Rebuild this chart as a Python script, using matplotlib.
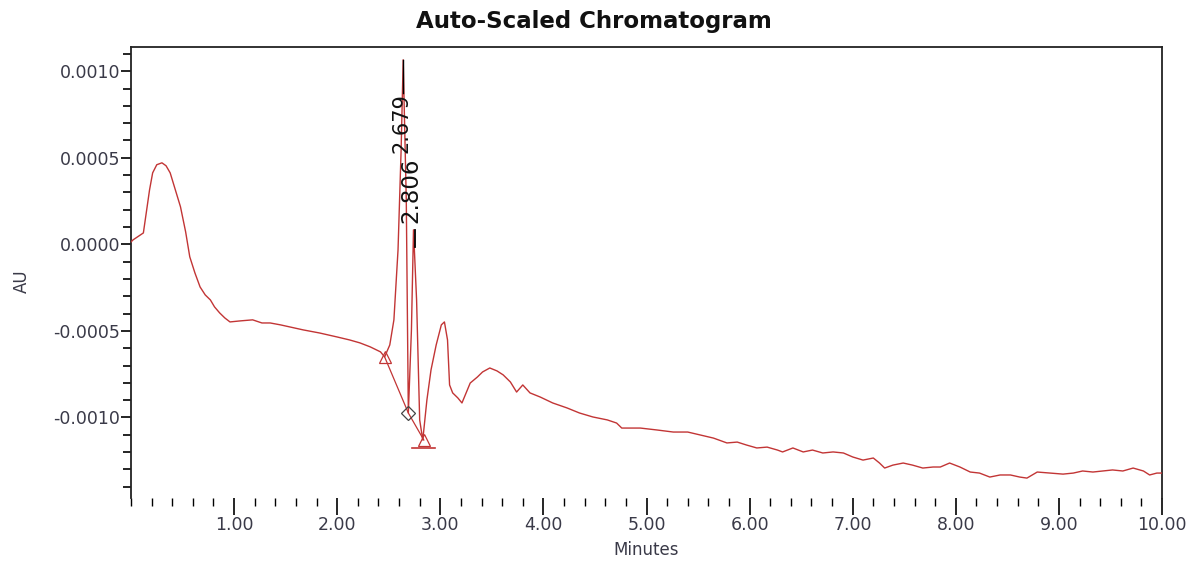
import matplotlib
matplotlib.use("Agg")
import matplotlib.pyplot as plt
from matplotlib.ticker import MultipleLocator

# ---- data ----
time_min = [0.00, 0.02, 0.12, 0.18, 0.21, 0.25, 0.30, 0.34, 0.38, 0.43, 0.48, 0.53, 0.57, 0.62,
            0.67, 0.72, 0.77, 0.81, 0.86, 0.91, 0.96, 1.06, 1.18, 1.27, 1.35, 1.45, 1.54, 1.67,
            1.83, 2.00, 2.12, 2.22, 2.32, 2.42, 2.46, 2.51, 2.55, 2.59, 2.62, 2.64, 2.67, 2.69,
            2.72, 2.74, 2.77, 2.80, 2.83, 2.87, 2.91, 2.96, 3.01, 3.04, 3.07, 3.09, 3.12, 3.17,
            3.21, 3.25, 3.29, 3.36, 3.41, 3.48, 3.55, 3.61, 3.68, 3.74, 3.80, 3.87, 3.97, 4.09,
            4.23, 4.35, 4.48, 4.62, 4.71, 4.76, 4.94, 5.10, 5.26, 5.40, 5.52, 5.65, 5.78, 5.88,
            5.97, 6.07, 6.17, 6.27, 6.32, 6.42, 6.52, 6.61, 6.71, 6.81, 6.91, 7.00, 7.10, 7.20,
            7.26, 7.31, 7.39, 7.49, 7.58, 7.68, 7.78, 7.85, 7.94, 8.04, 8.14, 8.23, 8.33, 8.43,
            8.53, 8.62, 8.69, 8.79, 8.91, 9.04, 9.14, 9.23, 9.33, 9.43, 9.52, 9.62, 9.72, 9.82,
            9.88, 9.95, 10.00]
au_e4 = [0.14, 0.26, 0.66, 3.15, 4.13, 4.60, 4.71, 4.54, 4.13, 3.15, 2.17, 0.72, -0.72, -1.65,
         -2.46, -2.92, -3.21, -3.61, -3.96, -4.25, -4.48, -4.42, -4.36, -4.54, -4.54, -4.65, -4.77, -4.94,
         -5.12, -5.35, -5.52, -5.69, -5.92, -6.21, -6.50, -5.81, -4.36, -0.32, 5.46, 10.66, 2.57, -9.74,
         -4.94, 0.84, -3.21, -10.14, -11.30, -8.99, -7.25, -5.81, -4.65, -4.48, -5.52, -8.12, -8.58, -8.87,
         -9.16, -8.58, -8.01, -7.66, -7.37, -7.14, -7.31, -7.54, -7.95, -8.53, -8.12, -8.58, -8.82, -9.16,
         -9.45, -9.74, -9.97, -10.14, -10.32, -10.61, -10.61, -10.72, -10.84, -10.84, -11.01, -11.19, -11.47, -11.42,
         -11.59, -11.76, -11.71, -11.88, -11.99, -11.76, -11.99, -11.88, -12.05, -11.99, -12.05, -12.28, -12.46, -12.34,
         -12.63, -12.92, -12.75, -12.63, -12.75, -12.92, -12.86, -12.86, -12.63, -12.86, -13.15, -13.21, -13.44, -13.32,
         -13.32, -13.44, -13.50, -13.15, -13.21, -13.27, -13.21, -13.09, -13.15, -13.09, -13.03, -13.09, -12.92, -13.09,
         -13.32, -13.21, -13.21]
au = [v * 1e-4 for v in au_e4]

# integration markers: start, valley, end
marker_t = [2.46, 2.69, 2.84]
marker_au = [-6.50e-4, -9.74e-4, -11.30e-4]

peak_labels = ["2.679", "2.806"]

y_ticks = [0.0010, 0.0005, 0.0, -0.0005, -0.0010]
y_ticklabels = ["0.0010", "0.0005", "0.0000", "-0.0005", "-0.0010"]
x_ticks = [1, 2, 3, 4, 5, 6, 7, 8, 9, 10]
x_ticklabels = ["1.00", "2.00", "3.00", "4.00", "5.00", "6.00", "7.00", "8.00", "9.00", "10.00"]

# ---- figure ----
plt.rcParams['font.family'] = ['DejaVu Sans']
W, H = 1192, 566
fig = plt.figure(figsize=(W / 100, H / 100), dpi=100)
ax = fig.add_axes([131 / W, 1 - 498 / H, (1162 - 131) / W, (498 - 47) / H])

red = '#c23535'
txt = '#3a3a48'
ax.plot(time_min, au, color=red, lw=1.0, zorder=3)
# baseline through markers
ax.plot(marker_t, marker_au, color=red, lw=0.9, zorder=3)
ax.plot(marker_t[0], marker_au[0], marker='^', mfc='none', mec=red, ms=8, mew=0.9, zorder=4)
ax.plot(marker_t[1], marker_au[1], marker='D', mfc='none', mec='#444444', ms=7, mew=0.9, zorder=4)
ax.plot(marker_t[2], marker_au[2], marker='^', mfc='none', mec=red, ms=9, mew=0.9, zorder=4)
ax.plot([marker_t[2] - 0.11, marker_t[2] + 0.11], [marker_au[2] - 0.45e-4] * 2, color=red, lw=1.2, zorder=4)

# peak labels
ax.plot([2.64, 2.64], [10.66e-4, 8.76e-4], color='black', lw=1.0, zorder=5)
ax.text(2.625, 8.75e-4, peak_labels[0], rotation=90, ha='center', va='top',
        fontsize=15, color='#111111', zorder=5)
ax.plot([2.75, 2.75], [0.85e-4, -0.15e-4], color='black', lw=1.3, zorder=5)
ax.text(2.71, 5.0e-4, peak_labels[1], rotation=90, ha='center', va='top',
        fontsize=16.5, color='#111111', zorder=5)

ax.set_xlim(0, 10)
ax.set_ylim(-0.001465, 0.00114)

ax.spines['bottom'].set_visible(False)
for s in ['left', 'top', 'right']:
    ax.spines[s].set_color('#222222')
    ax.spines[s].set_linewidth(1.3)

ax.set_yticks(y_ticks)
ax.set_yticklabels(y_ticklabels)
ax.yaxis.set_minor_locator(MultipleLocator(0.0001))
ax.set_xticks(x_ticks)
ax.set_xticklabels(x_ticklabels)
ax.xaxis.set_minor_locator(MultipleLocator(0.2))

ax.tick_params(axis='y', which='major', direction='out', length=7, width=1.2, labelsize=12.5,
               labelcolor=txt, pad=1)
ax.tick_params(axis='y', which='minor', direction='out', length=6, width=1.2)
ax.tick_params(axis='x', which='major', direction='out', length=12, width=1.2, labelsize=12.5,
               labelcolor=txt, pad=1)
ax.tick_params(axis='x', which='minor', direction='out', length=6, width=1.0)

ax.set_xlabel('Minutes', fontsize=12, color=txt, labelpad=5)
ax.set_ylabel('AU', fontsize=12, color=txt)
ax.yaxis.set_label_coords(-0.097, 0.48)
ax.set_title('Auto-Scaled Chromatogram', fontsize=16.5, fontweight='bold', color='#111111',
             pad=14, x=0.449)

fig.savefig('out.png', dpi=100)
